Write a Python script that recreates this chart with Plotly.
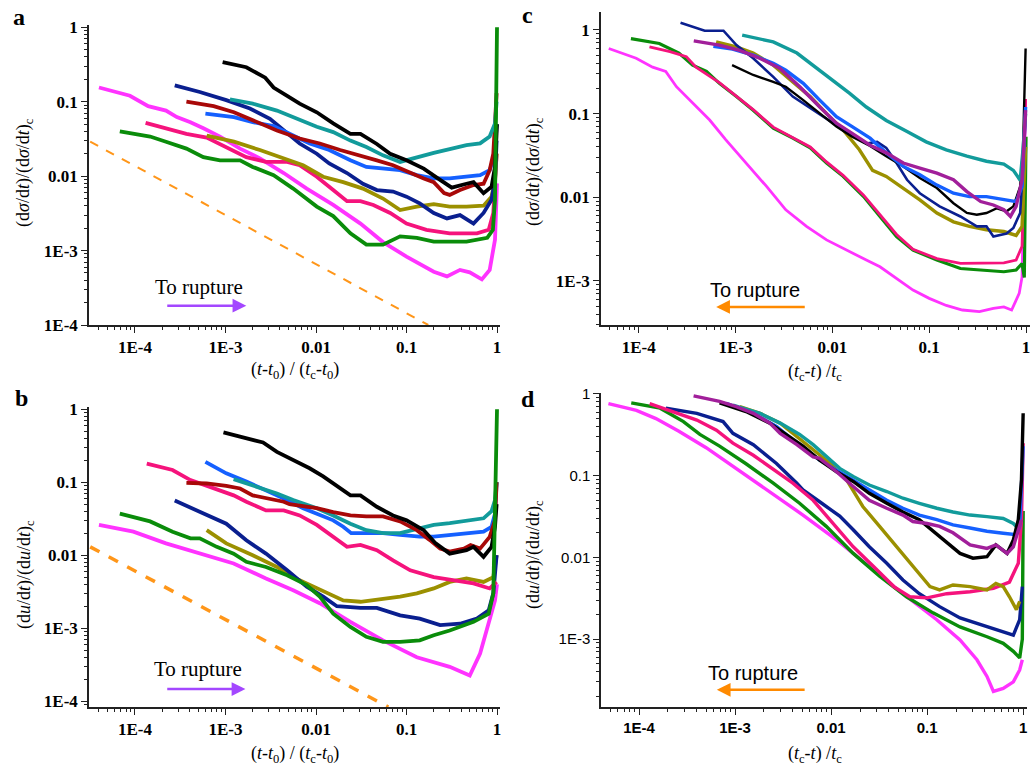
import plotly.graph_objects as go

# ---------------- colours ----------------
BLACK = "#000000"; TEAL = "#129b9b"; BLUE = "#1560ff"; RED = "#a80808"
NAVY = "#0a1f8f"; OLIVE = "#9b9000"; PINK = "#f5137c"; MAGENTA = "#ff33ff"
GREEN = "#0a8c0a"; PURPLE = "#a11f9a"; ORANGE = "#ff9619"

tick_vals = [1e-4, 1e-3, 0.01, 0.1, 1]
tick_text = ["1E-4", "1E-3", "0.01", "0.1", "1"]

# ---------------- panel a ----------------
a_black_x = [9.3e-4, 1.7e-3, 2.75e-3, 3.4e-3, 4.8e-3, 6.6e-3, 0.0102, 0.0155, 0.024, 0.031, 0.047, 0.066, 0.1, 0.155, 0.235, 0.316, 0.46, 0.55, 0.71, 0.87, 0.95, 1.0]
a_black_y = [0.34, 0.29, 0.21, 0.155, 0.12, 0.094, 0.072, 0.051, 0.037, 0.037, 0.027, 0.020, 0.0163, 0.0126, 0.0089, 0.0070, 0.0079, 0.0083, 0.0059, 0.0072, 0.0133, 0.05]
a_teal_x = [1.12e-3, 2.0e-3, 3.7e-3, 5.6e-3, 0.0102, 0.0155, 0.024, 0.036, 0.055, 0.085, 0.13, 0.2, 0.30, 0.46, 0.65, 0.83, 0.95, 0.99]
a_teal_y = [0.107, 0.094, 0.076, 0.062, 0.046, 0.039, 0.030, 0.0246, 0.019, 0.0155, 0.018, 0.0205, 0.023, 0.026, 0.0275, 0.034, 0.051, 0.1]
a_blue_x = [6.0e-4, 1.24e-3, 2.0e-3, 3.4e-3, 5.1e-3, 8.5e-3, 0.014, 0.024, 0.036, 0.055, 0.085, 0.13, 0.2, 0.30, 0.46, 0.65, 0.83, 0.95, 0.99]
a_blue_y = [0.069, 0.062, 0.053, 0.047, 0.037, 0.0274, 0.0224, 0.0163, 0.0133, 0.0126, 0.012, 0.0103, 0.0093, 0.0093, 0.010, 0.0103, 0.012, 0.02, 0.05]
a_red_x = [3.7e-4, 7.4e-4, 1.24e-3, 2.0e-3, 3.7e-3, 6.6e-3, 0.011, 0.0185, 0.031, 0.047, 0.071, 0.11, 0.155, 0.2, 0.26, 0.30, 0.39, 0.55, 0.71, 0.83, 0.91, 0.99]
a_red_y = [0.1, 0.087, 0.072, 0.056, 0.041, 0.032, 0.0274, 0.0224, 0.019, 0.0163, 0.014, 0.011, 0.0093, 0.0083, 0.0059, 0.0056, 0.0065, 0.0076, 0.0079, 0.012, 0.02, 0.13]
a_navy_x = [2.75e-4, 5.2e-4, 1.02e-3, 1.86e-3, 3.1e-3, 4.4e-3, 6.6e-3, 0.0102, 0.014, 0.022, 0.033, 0.047, 0.071, 0.1, 0.14, 0.2, 0.28, 0.39, 0.55, 0.71, 0.87, 0.95, 0.99]
a_navy_y = [0.166, 0.135, 0.105, 0.081, 0.059, 0.041, 0.0274, 0.020, 0.0148, 0.011, 0.0079, 0.0065, 0.0062, 0.0053, 0.0043, 0.0032, 0.0027, 0.003, 0.0023, 0.0032, 0.0048, 0.0089, 0.03]
a_olive_x = [6.2e-4, 1.24e-3, 2.4e-3, 4.4e-3, 7.2e-3, 0.012, 0.020, 0.033, 0.055, 0.085, 0.13, 0.2, 0.30, 0.46, 0.71, 0.87, 0.95, 0.99]
a_olive_y = [0.035, 0.029, 0.0224, 0.0173, 0.014, 0.0098, 0.0083, 0.0068, 0.005, 0.0035, 0.0039, 0.0042, 0.0039, 0.0039, 0.004, 0.0053, 0.0089, 0.02]
a_pink_x = [1.31e-4, 2.2e-4, 3.7e-4, 6.2e-4, 1.02e-3, 1.7e-3, 2.8e-3, 4.8e-3, 6.6e-3, 0.0102, 0.0155, 0.022, 0.031, 0.043, 0.066, 0.1, 0.166, 0.30, 0.6, 0.81, 0.91, 0.99]
a_pink_y = [0.052, 0.044, 0.037, 0.033, 0.0246, 0.018, 0.0155, 0.0155, 0.014, 0.0098, 0.0065, 0.0046, 0.0046, 0.0041, 0.0032, 0.0023, 0.0019, 0.0017, 0.0017, 0.0019, 0.0032, 0.02]
a_magenta_x = [4.0e-5, 8.8e-5, 1.4e-4, 2.2e-4, 2.9e-4, 4.1e-4, 5.7e-4, 8.7e-4, 1.45e-3, 2.4e-3, 4.4e-3, 7.9e-3, 0.0155, 0.031, 0.055, 0.1, 0.2, 0.28, 0.39, 0.50, 0.68, 0.83, 0.95, 1.0]
a_magenta_y = [0.155, 0.12, 0.087, 0.076, 0.062, 0.053, 0.044, 0.034, 0.0234, 0.0173, 0.011, 0.0068, 0.0041, 0.0023, 0.0013, 8.3e-4, 5.2e-4, 4.5e-4, 5.5e-4, 5.1e-4, 4.1e-4, 5.5e-4, 1.4e-3, 0.008]
a_green_x = [6.8e-5, 1.47e-4, 2.2e-4, 3.7e-4, 5.7e-4, 8.7e-4, 1.45e-3, 2.0e-3, 3.4e-3, 5.6e-3, 0.0102, 0.0155, 0.024, 0.036, 0.055, 0.085, 0.13, 0.2, 0.46, 0.78, 0.90, 0.95, 1.0]
a_green_y = [0.040, 0.034, 0.029, 0.0234, 0.018, 0.0163, 0.0163, 0.0133, 0.0103, 0.0068, 0.0039, 0.0029, 0.0017, 0.0012, 0.0012, 0.00155, 0.00148, 0.00132, 0.00132, 0.00148, 0.0019, 0.0048, 1.0]
a_orange_x = [3.2e-5, 0.174]
a_orange_y = [0.029, 1e-4]

# ---------------- panel b ----------------
b_black_x = [9.5e-4, 1.7e-3, 2.6e-3, 3.7e-3, 5.6e-3, 8.5e-3, 0.012, 0.0155, 0.024, 0.031, 0.047, 0.071, 0.1, 0.155, 0.21, 0.30, 0.46, 0.55, 0.71, 0.87, 0.95, 0.99]
b_black_y = [0.48, 0.40, 0.35, 0.26, 0.20, 0.155, 0.12, 0.096, 0.066, 0.066, 0.046, 0.035, 0.030, 0.022, 0.0145, 0.0105, 0.0117, 0.013, 0.0095, 0.013, 0.0245, 0.05]
b_teal_x = [1.23e-3, 2.0e-3, 3.7e-3, 5.6e-3, 0.0102, 0.0155, 0.024, 0.036, 0.055, 0.085, 0.14, 0.2, 0.30, 0.46, 0.71, 0.87, 0.95, 0.99]
b_teal_y = [0.11, 0.091, 0.07, 0.057, 0.044, 0.035, 0.027, 0.022, 0.020, 0.020, 0.0234, 0.026, 0.0275, 0.030, 0.032, 0.040, 0.057, 0.1]
b_blue_x = [6.0e-4, 1.02e-3, 1.7e-3, 2.8e-3, 4.8e-3, 7.2e-3, 0.011, 0.0155, 0.020, 0.0245, 0.036, 0.055, 0.085, 0.14, 0.2, 0.46, 0.71, 0.87, 0.95, 0.99]
b_blue_y = [0.19, 0.132, 0.102, 0.078, 0.057, 0.044, 0.035, 0.030, 0.0245, 0.020, 0.020, 0.020, 0.019, 0.018, 0.018, 0.020, 0.021, 0.0245, 0.037, 0.1]
b_red_x = [3.7e-4, 6.2e-4, 1.02e-3, 1.45e-3, 2.0e-3, 3.4e-3, 4.4e-3, 5.1e-3, 0.0102, 0.0155, 0.024, 0.036, 0.055, 0.085, 0.13, 0.18, 0.235, 0.30, 0.43, 0.51, 0.65, 0.83, 0.95, 0.99]
b_red_y = [0.098, 0.096, 0.089, 0.082, 0.066, 0.057, 0.054, 0.050, 0.044, 0.039, 0.035, 0.034, 0.034, 0.029, 0.022, 0.0162, 0.0123, 0.0112, 0.0123, 0.0138, 0.0123, 0.0178, 0.030, 0.1]
b_pink_x = [1.35e-4, 2.6e-4, 4.1e-4, 7.4e-4, 1.23e-3, 1.7e-3, 2.4e-3, 2.8e-3, 4.4e-3, 6.6e-3, 0.0102, 0.0155, 0.022, 0.031, 0.047, 0.071, 0.11, 0.2, 0.33, 0.55, 0.83, 0.99]
b_pink_y = [0.18, 0.147, 0.107, 0.082, 0.066, 0.054, 0.044, 0.041, 0.041, 0.035, 0.026, 0.0178, 0.013, 0.0138, 0.0117, 0.0085, 0.0062, 0.005, 0.0046, 0.0041, 0.0035, 0.0043]
b_navy_x = [2.75e-4, 5.2e-4, 1.02e-3, 1.7e-3, 2.8e-3, 4.8e-3, 7.9e-3, 0.012, 0.017, 0.031, 0.047, 0.085, 0.14, 0.235, 0.39, 0.60, 0.81, 0.91, 0.99]
b_navy_y = [0.056, 0.039, 0.027, 0.016, 0.0105, 0.0062, 0.0037, 0.0027, 0.0020, 0.0019, 0.0019, 0.0015, 0.00135, 0.0011, 0.00115, 0.00135, 0.00176, 0.003, 0.01]
b_olive_x = [6.2e-4, 1.02e-3, 2.0e-3, 3.7e-3, 5.6e-3, 8.5e-3, 0.013, 0.020, 0.031, 0.055, 0.085, 0.13, 0.2, 0.30, 0.46, 0.71, 0.91, 0.99]
b_olive_y = [0.022, 0.0145, 0.010, 0.0069, 0.005, 0.0039, 0.003, 0.0024, 0.0023, 0.0025, 0.0027, 0.003, 0.0035, 0.0043, 0.0048, 0.0043, 0.005, 0.01]
b_green_x = [6.8e-5, 1.47e-4, 2.6e-4, 4.1e-4, 5.2e-4, 8.0e-4, 1.23e-3, 1.7e-3, 2.8e-3, 4.8e-3, 7.9e-3, 0.011, 0.0155, 0.024, 0.036, 0.055, 0.085, 0.14, 0.2, 0.30, 0.55, 0.81, 0.91, 1.0]
b_green_y = [0.037, 0.029, 0.021, 0.017, 0.017, 0.013, 0.0105, 0.0081, 0.0069, 0.0053, 0.0039, 0.0027, 0.00158, 0.00104, 7.6e-4, 6.5e-4, 6.5e-4, 6.8e-4, 8.0e-4, 9.3e-4, 0.00122, 0.00158, 0.003, 1.0]
b_magenta_x = [4.0e-5, 9.6e-5, 2.2e-4, 5.2e-4, 1.23e-3, 2.8e-3, 5.6e-3, 0.011, 0.024, 0.055, 0.13, 0.30, 0.50, 0.65, 0.83, 0.95, 1.0]
b_magenta_y = [0.026, 0.021, 0.0145, 0.0105, 0.0077, 0.0048, 0.0033, 0.0022, 0.00122, 6.8e-4, 4.0e-4, 2.95e-4, 2.24e-4, 4.5e-4, 0.0013, 0.0024, 0.004]
b_orange_x = [3.2e-5, 0.063]
b_orange_y = [0.013, 8.3e-5]

# ---------------- panel c ----------------
c_teal_x = [1.17e-3, 2.45e-3, 4.3e-3, 6.3e-3, 0.0102, 0.0151, 0.0224, 0.036, 0.059, 0.093, 0.15, 0.245, 0.39, 0.59, 0.74, 0.87, 0.93, 0.99]
c_teal_y = [0.87, 0.72, 0.53, 0.38, 0.25, 0.175, 0.12, 0.083, 0.061, 0.046, 0.037, 0.031, 0.027, 0.025, 0.021, 0.016, 0.037, 0.1]
c_navy_x = [2.7e-4, 4.8e-4, 7.5e-4, 1.02e-3, 1.52e-3, 2.45e-3, 3.9e-3, 6.3e-3, 0.0102, 0.0151, 0.0224, 0.029, 0.036, 0.046, 0.059, 0.080, 0.128, 0.21, 0.31, 0.39, 0.46, 0.63, 0.74, 0.87, 0.93, 0.99]
c_navy_y = [1.22, 0.98, 0.98, 0.66, 0.46, 0.275, 0.16, 0.11, 0.077, 0.058, 0.044, 0.046, 0.039, 0.0257, 0.0162, 0.0112, 0.0078, 0.0059, 0.0045, 0.0045, 0.0034, 0.0037, 0.0043, 0.0065, 0.023, 0.12]
c_black_x = [9.2e-4, 1.52e-3, 2.45e-3, 3.3e-3, 5.0e-3, 7.4e-3, 0.011, 0.016, 0.0245, 0.036, 0.054, 0.080, 0.12, 0.178, 0.245, 0.31, 0.39, 0.50, 0.63, 0.74, 0.87, 0.93, 0.99]
c_black_y = [0.38, 0.29, 0.24, 0.21, 0.145, 0.10, 0.070, 0.053, 0.041, 0.031, 0.0234, 0.017, 0.0129, 0.0085, 0.0065, 0.0062, 0.0065, 0.0074, 0.0068, 0.0078, 0.0134, 0.037, 0.6]
c_blue_x = [5.9e-4, 9.3e-4, 1.52e-3, 2.45e-3, 3.3e-3, 5.0e-3, 7.4e-3, 0.011, 0.016, 0.0245, 0.036, 0.054, 0.080, 0.12, 0.178, 0.26, 0.39, 0.59, 0.79, 0.91, 0.99]
c_blue_y = [0.64, 0.59, 0.50, 0.40, 0.33, 0.23, 0.145, 0.092, 0.070, 0.051, 0.034, 0.0234, 0.0186, 0.014, 0.0112, 0.0102, 0.0102, 0.0093, 0.0089, 0.0134, 0.12]
c_olive_x = [6.3e-4, 1.02e-3, 1.52e-3, 2.45e-3, 3.9e-3, 5.9e-3, 8.7e-3, 0.0129, 0.019, 0.026, 0.036, 0.054, 0.080, 0.12, 0.178, 0.26, 0.39, 0.59, 0.79, 0.91, 0.99]
c_olive_y = [0.72, 0.63, 0.53, 0.38, 0.24, 0.16, 0.10, 0.064, 0.037, 0.021, 0.0178, 0.0129, 0.0093, 0.0065, 0.0051, 0.0045, 0.0041, 0.0039, 0.0035, 0.0045, 0.04]
c_purple_x = [3.7e-4, 6.8e-4, 1.1e-3, 1.77e-3, 2.85e-3, 4.6e-3, 7.4e-3, 0.011, 0.016, 0.0245, 0.036, 0.054, 0.080, 0.12, 0.178, 0.245, 0.34, 0.46, 0.59, 0.69, 0.79, 0.91, 0.99]
c_purple_y = [0.74, 0.66, 0.57, 0.46, 0.35, 0.21, 0.12, 0.077, 0.058, 0.042, 0.034, 0.0257, 0.0224, 0.0195, 0.0162, 0.0117, 0.0089, 0.0081, 0.0071, 0.0059, 0.0078, 0.0162, 0.11]
c_green_x = [8.3e-5, 1.63e-4, 2.6e-4, 3.6e-4, 5.0e-4, 6.8e-4, 1.02e-3, 1.52e-3, 2.45e-3, 3.9e-3, 5.9e-3, 8.7e-3, 0.0129, 0.021, 0.031, 0.046, 0.068, 0.12, 0.21, 0.39, 0.59, 0.79, 0.91, 0.96, 1.0]
c_green_y = [0.79, 0.69, 0.53, 0.38, 0.32, 0.23, 0.16, 0.11, 0.067, 0.051, 0.039, 0.0257, 0.0178, 0.0102, 0.0059, 0.0034, 0.00234, 0.00178, 0.00141, 0.00132, 0.00129, 0.00135, 0.00162, 0.0011, 0.053]
c_pink_x = [1.29e-4, 2.1e-4, 3.1e-4, 3.9e-4, 6.8e-4, 1.02e-3, 1.52e-3, 2.45e-3, 3.9e-3, 5.9e-3, 8.7e-3, 0.0129, 0.021, 0.031, 0.046, 0.068, 0.12, 0.21, 0.39, 0.59, 0.79, 0.91, 0.99]
c_pink_y = [0.63, 0.55, 0.48, 0.36, 0.235, 0.163, 0.112, 0.069, 0.052, 0.040, 0.0265, 0.0183, 0.0106, 0.0062, 0.0036, 0.0024, 0.00185, 0.00162, 0.00162, 0.00165, 0.00178, 0.0026, 0.15]
c_magenta_x = [4.9e-5, 9.4e-5, 1.39e-4, 1.9e-4, 2.45e-4, 3.6e-4, 5.4e-4, 7.9e-4, 1.29e-3, 2.1e-3, 3.3e-3, 5.4e-3, 8.7e-3, 0.0138, 0.0224, 0.031, 0.046, 0.068, 0.1, 0.15, 0.22, 0.33, 0.46, 0.59, 0.71, 0.85, 0.91, 0.99]
c_magenta_y = [0.60, 0.46, 0.36, 0.32, 0.21, 0.133, 0.084, 0.049, 0.0257, 0.0134, 0.0071, 0.0045, 0.0031, 0.00234, 0.00178, 0.00148, 0.00107, 7.8e-4, 6.2e-4, 5.1e-4, 4.5e-4, 4.3e-4, 4.7e-4, 4.9e-4, 4.5e-4, 7.1e-4, 0.00112, 0.15]

# ---------------- panel d ----------------
d_magenta_x = [4.8e-5, 9.4e-5, 1.5e-4, 2.6e-4, 5.0e-4, 1.03e-3, 2.3e-3, 5.1e-3, 0.0114, 0.025, 0.056, 0.126, 0.22, 0.33, 0.42, 0.49, 0.62, 0.79, 0.92, 0.98]
d_magenta_y = [0.76, 0.63, 0.50, 0.35, 0.22, 0.123, 0.064, 0.033, 0.0164, 0.0078, 0.0036, 0.00173, 9.8e-4, 5.6e-4, 3.5e-4, 2.3e-4, 2.5e-4, 3.0e-4, 4.2e-4, 5.6e-4]
d_green_x = [8.3e-5, 1.66e-4, 2.9e-4, 4.3e-4, 6.9e-4, 1.3e-3, 2.5e-3, 4.7e-3, 8.9e-3, 0.017, 0.032, 0.061, 0.115, 0.22, 0.42, 0.62, 0.79, 0.92, 0.98, 1.0]
d_green_y = [0.78, 0.67, 0.46, 0.32, 0.23, 0.14, 0.081, 0.046, 0.024, 0.0112, 0.0059, 0.0033, 0.0021, 0.00141, 0.00107, 8.9e-4, 7.1e-4, 5.9e-4, 0.001, 0.037]
d_pink_x = [1.29e-4, 2.24e-4, 4.0e-4, 6.4e-4, 9.5e-4, 1.55e-3, 2.5e-3, 4.0e-3, 6.5e-3, 0.0105, 0.017, 0.0275, 0.045, 0.066, 0.1, 0.16, 0.28, 0.49, 0.72, 0.89, 0.96, 1.0]
d_pink_y = [0.76, 0.61, 0.48, 0.36, 0.25, 0.178, 0.118, 0.081, 0.050, 0.026, 0.0135, 0.0078, 0.0044, 0.0033, 0.0032, 0.0036, 0.0038, 0.0042, 0.005, 0.0085, 0.029, 0.25]
d_navy_x = [1.9e-4, 4.0e-4, 7.5e-4, 9.5e-4, 1.55e-3, 2.7e-3, 4.4e-3, 5.1e-3, 7.6e-3, 0.0123, 0.017, 0.025, 0.038, 0.056, 0.083, 0.135, 0.22, 0.42, 0.62, 0.79, 0.92, 0.98]
d_navy_y = [0.67, 0.58, 0.46, 0.33, 0.24, 0.141, 0.081, 0.067, 0.048, 0.032, 0.0218, 0.0135, 0.0085, 0.0053, 0.0036, 0.0025, 0.00182, 0.00143, 0.00123, 0.00112, 0.00173, 0.0044]
d_purple_x = [3.7e-4, 6.9e-4, 1.03e-3, 1.55e-3, 2.3e-3, 2.95e-3, 4.4e-3, 6.5e-3, 7.6e-3, 0.0114, 0.017, 0.025, 0.038, 0.056, 0.071, 0.1, 0.135, 0.186, 0.28, 0.42, 0.52, 0.68, 0.79, 0.89, 0.96]
d_purple_y = [0.95, 0.81, 0.70, 0.58, 0.44, 0.33, 0.24, 0.17, 0.163, 0.112, 0.074, 0.050, 0.040, 0.033, 0.0275, 0.026, 0.024, 0.020, 0.0142, 0.0129, 0.0142, 0.0112, 0.0135, 0.0218, 0.029]
d_black_x = [6.9e-4, 1.3e-3, 2.3e-3, 3.4e-3, 5.1e-3, 7.6e-3, 0.0114, 0.017, 0.025, 0.038, 0.056, 0.083, 0.115, 0.16, 0.22, 0.30, 0.42, 0.52, 0.68, 0.79, 0.89, 0.96, 1.0]
d_black_y = [0.78, 0.61, 0.44, 0.32, 0.23, 0.155, 0.112, 0.085, 0.061, 0.046, 0.036, 0.029, 0.021, 0.0149, 0.0112, 0.0098, 0.0102, 0.0142, 0.0112, 0.0164, 0.029, 0.089, 0.58]
d_blue_x = [8.1e-4, 1.55e-3, 2.7e-3, 4.4e-3, 7.6e-3, 0.0114, 0.017, 0.025, 0.038, 0.056, 0.083, 0.126, 0.186, 0.28, 0.42, 0.62, 0.85, 0.92, 1.0]
d_blue_y = [0.77, 0.58, 0.40, 0.25, 0.155, 0.117, 0.089, 0.067, 0.050, 0.040, 0.033, 0.029, 0.025, 0.0229, 0.0209, 0.0198, 0.019, 0.024, 0.23]
d_teal_x = [9.5e-4, 1.82e-3, 2.95e-3, 4.7e-3, 6.5e-3, 8.9e-3, 0.0123, 0.017, 0.025, 0.038, 0.056, 0.083, 0.126, 0.186, 0.28, 0.42, 0.62, 0.79, 0.92]
d_teal_y = [0.73, 0.58, 0.44, 0.32, 0.24, 0.17, 0.123, 0.098, 0.077, 0.064, 0.053, 0.046, 0.040, 0.036, 0.033, 0.0316, 0.030, 0.026, 0.0218]
d_olive_x = [1.12e-3, 1.82e-3, 2.95e-3, 4.4e-3, 6.5e-3, 9.8e-3, 0.0145, 0.0214, 0.032, 0.048, 0.072, 0.107, 0.135, 0.186, 0.28, 0.42, 0.52, 0.62, 0.72, 0.85, 0.92]
d_olive_y = [0.70, 0.58, 0.44, 0.30, 0.21, 0.141, 0.089, 0.042, 0.024, 0.0135, 0.0078, 0.0044, 0.004, 0.0046, 0.0044, 0.004, 0.0048, 0.0044, 0.0033, 0.0023, 0.0029]

W, H = 1036, 767
fig = go.Figure()

def add(xs, ys, color, xa, ya, width=3.8, dash=None):
    fig.add_trace(go.Scatter(x=xs, y=ys, mode="lines", xaxis=xa, yaxis=ya,
                             line=dict(color=color, width=width, dash=dash),
                             showlegend=False, hoverinfo="skip"))

# panel a (x, y)
add(a_orange_x, a_orange_y, ORANGE, "x", "y", 2, "dash")
for xs, ys, c in [(a_magenta_x, a_magenta_y, MAGENTA), (a_pink_x, a_pink_y, PINK),
                  (a_olive_x, a_olive_y, OLIVE), (a_navy_x, a_navy_y, NAVY),
                  (a_blue_x, a_blue_y, BLUE), (a_red_x, a_red_y, RED),
                  (a_teal_x, a_teal_y, TEAL), (a_black_x, a_black_y, BLACK),
                  (a_green_x, a_green_y, GREEN)]:
    add(xs, ys, c, "x", "y")

# panel b (x2, y2)
add(b_orange_x, b_orange_y, ORANGE, "x2", "y2", 3.5, "dash")
for xs, ys, c in [(b_magenta_x, b_magenta_y, MAGENTA), (b_olive_x, b_olive_y, OLIVE),
                  (b_navy_x, b_navy_y, NAVY), (b_pink_x, b_pink_y, PINK),
                  (b_blue_x, b_blue_y, BLUE), (b_teal_x, b_teal_y, TEAL),
                  (b_red_x, b_red_y, RED), (b_black_x, b_black_y, BLACK),
                  (b_green_x, b_green_y, GREEN)]:
    add(xs, ys, c, "x2", "y2")

# panel c (x3, y3)
for xs, ys, c, w in [(c_magenta_x, c_magenta_y, MAGENTA, 2.8), (c_green_x, c_green_y, GREEN, 3.2),
                     (c_pink_x, c_pink_y, PINK, 2.8), (c_olive_x, c_olive_y, OLIVE, 3.4),
                     (c_navy_x, c_navy_y, NAVY, 2.6), (c_black_x, c_black_y, BLACK, 2.4),
                     (c_blue_x, c_blue_y, BLUE, 3.4), (c_teal_x, c_teal_y, TEAL, 3.4),
                     (c_purple_x, c_purple_y, PURPLE, 3.4)]:
    add(xs, ys, c, "x3", "y3", w)

# panel d (x4, y4)
for xs, ys, c in [(d_magenta_x, d_magenta_y, MAGENTA), (d_green_x, d_green_y, GREEN),
                  (d_navy_x, d_navy_y, NAVY), (d_pink_x, d_pink_y, PINK),
                  (d_olive_x, d_olive_y, OLIVE), (d_teal_x, d_teal_y, TEAL),
                  (d_blue_x, d_blue_y, BLUE), (d_black_x, d_black_y, BLACK),
                  (d_purple_x, d_purple_y, PURPLE)]:
    add(xs, ys, c, "x4", "y4", 3.4)

minor_vals = [k * 10.0 ** e for e in range(-5, 1) for k in range(2, 10)]

SERIF_B = dict(family="Liberation Serif", size=17, color="black", weight="bold")
SANS_B = dict(family="Liberation Sans", size=15, color="black", weight="bold")
SANS_R = dict(family="Liberation Sans", size=15, color="black")

def axis(domain, rng, anchor, font):
    return dict(type="log", domain=domain, range=rng, anchor=anchor,
                tickmode="array", tickvals=tick_vals, ticktext=tick_text,
                ticks="outside", ticklen=6, tickwidth=1.3, tickcolor="#222",
                minor=dict(tickmode="array", tickvals=minor_vals, ticks="outside",
                           ticklen=3, tickwidth=1, tickcolor="#222", showgrid=False),
                showline=True, linecolor="#222", linewidth=1.5, mirror=False,
                showgrid=False, zeroline=False, tickfont=font, automargin=False)

def px(v):
    return v / W

def py(v):
    return 1 - v / H

dom_x_left = [px(89), px(500)]
dom_x_right = [px(601), px(1030)]
dom_x_right_d = [px(601), px(1027)]

fig.update_layout(
    width=W, height=H, margin=dict(l=0, r=0, t=0, b=0, pad=0, autoexpand=False),
    paper_bgcolor="white", plot_bgcolor="white",
    xaxis=axis(dom_x_left, [-4.508, 0.033], "y", SERIF_B),
    yaxis=axis([py(325), py(25)], [-4.0, 0.03], "x", SERIF_B),
    xaxis2=axis(dom_x_left, [-4.508, 0.033], "y2", SERIF_B),
    yaxis2=axis([py(707), py(407)], [-4.08, 0.03], "x2", SERIF_B),
    xaxis3=axis(dom_x_right, [-4.39, 0.041], "y3", SERIF_B),
    yaxis3=axis([py(325), py(12)], [-3.526, 0.215], "x3", SERIF_B),
    xaxis4=axis(dom_x_right_d, [-4.396, 0.04], "y4", SANS_B),
    yaxis4=axis([py(707), py(393)], [-3.83, 0.012], "x4", SANS_R),
)

ann = []
TITLE_F = dict(family="Liberation Serif", size=18, color="black")
ylab_s = "(d<i>σ</i>/d<i>t</i>)/(d<i>σ</i>/d<i>t</i>)<sub>c</sub>"
ylab_u = "(d<i>u</i>/d<i>t</i>)/(d<i>u</i>/d<i>t</i>)<sub>c</sub>"
xlab_ab = "(<i>t</i>-<i>t</i><sub>0</sub>) / (<i>t</i><sub>c</sub>-<i>t</i><sub>0</sub>)"
xlab_cd = "(<i>t</i><sub>c</sub>-<i>t</i>) /<i>t</i><sub>c</sub>"
for txt, x, y, ang in [(ylab_s, 25, 173, -90), (xlab_ab, 295, 370, 0),
                       (ylab_u, 25, 575, -90), (xlab_ab, 295, 754, 0),
                       (ylab_s, 534, 172, -90), (xlab_cd, 815, 372, 0),
                       (ylab_u, 534, 555, -90), (xlab_cd, 815, 754, 0)]:
    ann.append(dict(text=txt, x=px(x), y=py(y), xref="paper", yref="paper",
                    showarrow=False, textangle=ang, font=TITLE_F,
                    xanchor="center", yanchor="middle"))

for txt, x, y in [("a", 19, 17), ("b", 21, 398), ("c", 527, 15), ("d", 528, 399)]:
    ann.append(dict(text=txt, x=px(x), y=py(y), xref="paper", yref="paper",
                    showarrow=False, xanchor="center", yanchor="middle",
                    font=dict(family="Liberation Serif", size=24, color="black", weight="bold")))

# "To rupture" labels and arrows
ARROW_AB = "#a347ff"
ARROW_CD = "#ff8a00"
for xr, yr, tx, ty, hx, tailx, ay, col, fam in [
        ("x", "y", -3.29, -3.49, -2.77, -3.66, -3.74, ARROW_AB, "Liberation Serif"),
        ("x2", "y2", -3.30, -3.56, -2.78, -3.66, -3.835, ARROW_AB, "Liberation Serif"),
        ("x3", "y3", -2.80, -3.11, -3.20, -2.27, -3.31, ARROW_CD, "Liberation Sans"),
        ("x4", "y4", -2.81, -3.41, -3.19, -2.26, -3.62, ARROW_CD, "Liberation Sans")]:
    ann.append(dict(text="To rupture", x=tx, y=ty, xref=xr, yref=yr, showarrow=False,
                    font=dict(family=fam, size=21 if fam.endswith("Serif") else 20, color="black"),
                    xanchor="center", yanchor="middle"))
    ann.append(dict(text="", x=hx, y=ay, xref=xr, yref=yr, ax=tailx, ay=ay,
                    axref=xr, ayref=yr, showarrow=True, arrowhead=2, arrowsize=1.1,
                    arrowwidth=2.5, arrowcolor=col))

fig.update_layout(annotations=ann)
fig.write_html("out.html", config={"displayModeBar": False},
               post_script="document.body.style.margin='0px';")
